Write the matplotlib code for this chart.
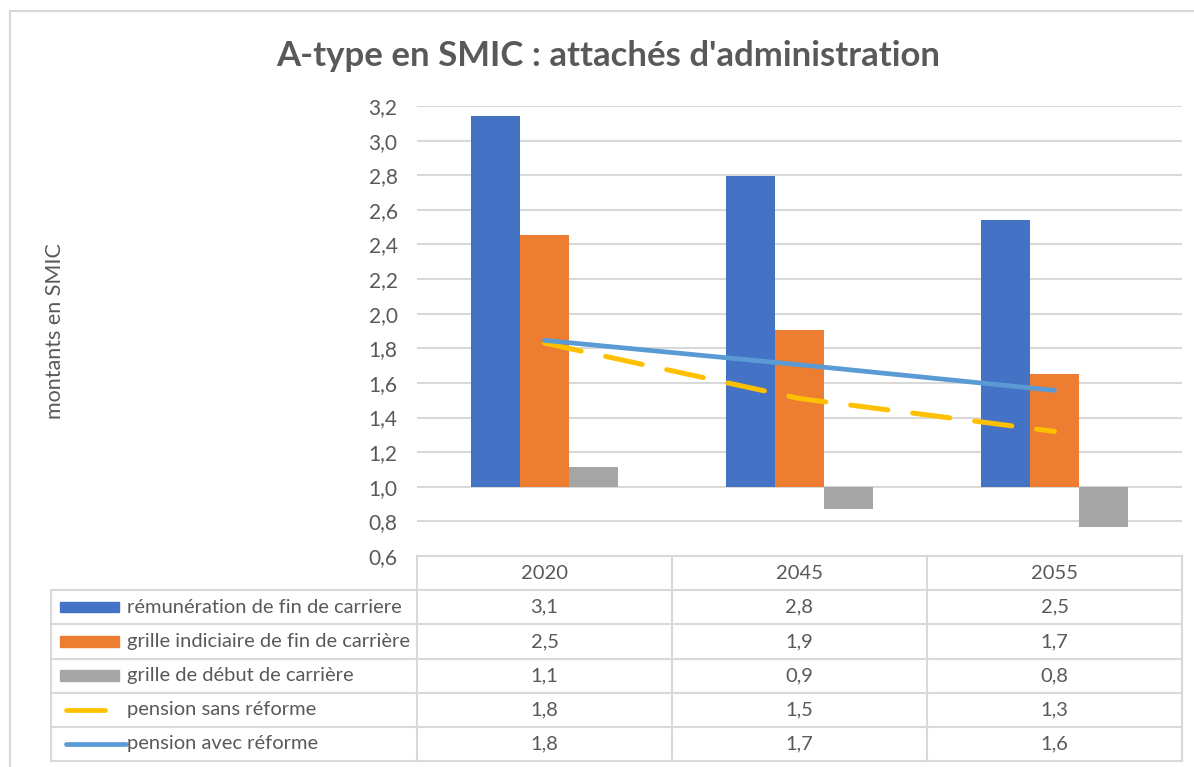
import numpy as np
import matplotlib
matplotlib.use("Agg")
import matplotlib.pyplot as plt
from matplotlib.patches import Rectangle

plt.rcParams['font.family'] = ['Lato', 'DejaVu Sans']

# données
annees = ["2020", "2045", "2055"]
remuneration_fin = [3.144, 2.794, 2.539]
grille_fin = [2.453, 1.908, 1.653]
grille_debut = [1.114, 0.871, 0.765]
pension_sans = [1.83, 1.51, 1.32]
pension_avec = [1.846, 1.705, 1.557]

noms = ["rémunération de fin de carriere",
        "grille indiciaire de fin de carrière",
        "grille de début de carrière",
        "pension sans réforme",
        "pension avec réforme"]
couleurs = ["#4472C4", "#ED7D31", "#A5A5A5", "#FFC000", "#5B9BD5"]
gris_txt = "#595959"
gris_grille = "#D9D9D9"

W, H = 1194, 767
fig = plt.figure(figsize=(W / 100, H / 100), dpi=100)

def box(x0, y0, x1, y1):
    # pixels (origine en haut a gauche) -> fraction de figure
    return [x0 / W, 1 - y1 / H, (x1 - x0) / W, (y1 - y0) / H]

# cadre du graphique
fig.patches.append(Rectangle((10 / W, -0.01), 1.0, 1 - 11 / H + 0.01,
                             transform=fig.transFigure, fill=False,
                             edgecolor=gris_grille, linewidth=1.5))

fig.text(608 / W, 1 - 56 / H, "A-type en SMIC : attachés d'administration",
         ha="center", va="center", fontsize=25, fontweight="bold", color=gris_txt)

# zone de tracé
ax = fig.add_axes(box(417, 106, 1182, 556))
x = np.arange(len(annees))
lb = 0.192
base = 1.0
series = [remuneration_fin, grille_fin, grille_debut]
for i, s in enumerate(series):
    ax.bar(x + (i - 1) * lb, np.array(s) - base, width=lb, bottom=base,
           color=couleurs[i], zorder=3)

ax.plot(x, pension_sans, color=couleurs[3], lw=3.6, linestyle=(0, (7.5, 5)),
        dash_capstyle="round", zorder=4)
ax.plot(x, pension_avec, color=couleurs[4], lw=3.4, solid_capstyle="round", zorder=4)

ax.set_xlim(-0.5, 2.5)
ax.set_ylim(0.6, 3.2)
yt = np.arange(0.6, 3.21, 0.2)
ax.set_yticks(yt)
ax.set_yticklabels([f"{v:.1f}".replace(".", ",") for v in yt], color=gris_txt, fontsize=15)
ax.tick_params(axis="y", length=0, pad=14)
ax.set_xticks([])
for sp in ax.spines.values():
    sp.set_visible(False)
for v in yt[1:]:
    ax.axhline(v, color=gris_grille, lw=1.5, zorder=1)

fig.text(55 / W, 1 - 331 / H, "montants en SMIC", rotation=90, ha="center",
         va="center", fontsize=15.5, color=gris_txt)

# tableau de données
tab = fig.add_axes(box(51, 556, 1182, 761))
x_gauche = -0.5 - (417 - 51) / 255
tab.set_xlim(x_gauche, 2.5)
tab.set_ylim(6, 0)
tab.axis("off")
kw = dict(color=gris_grille, lw=1.5, clip_on=False)
tab.plot([-0.5, 2.5], [0, 0], **kw)
for r in range(1, 7):
    tab.plot([x_gauche, 2.5], [r, r], **kw)
for c in [-0.5, 0.5, 1.5, 2.5]:
    tab.plot([c, c], [0, 6], **kw)
tab.plot([x_gauche, x_gauche], [1, 6], **kw)

fs = 14.5
for j, a in enumerate(annees):
    tab.text(j, 0.5, a, ha="center", va="center", fontsize=fs, color=gris_txt)

valeurs = [remuneration_fin, grille_fin, grille_debut, pension_sans, pension_avec]
px = (2.5 - x_gauche) / (1182 - 51)
for r, (nom, vals) in enumerate(zip(noms, valeurs)):
    yc = r + 1.5
    for j, v in enumerate(vals):
        tab.text(j, yc, f"{v:.1f}".replace(".", ","), ha="center", va="center",
                 fontsize=fs, color=gris_txt)
    x0 = x_gauche + 9 * px
    if r < 3:
        tab.add_patch(Rectangle((x0, yc - 0.15), 59 * px, 0.3, color=couleurs[r]))
    elif r == 3:
        tab.plot([x0 + 6 * px, x0 + 45 * px], [yc, yc], color=couleurs[r], lw=3.4,
                 solid_capstyle="round")
    else:
        tab.plot([x0 + 6 * px, x0 + 66 * px], [yc, yc], color=couleurs[r], lw=3.4,
                 solid_capstyle="round")
    tab.text(x_gauche + 76 * px, yc, nom, ha="left", va="center",
             fontsize=fs, color=gris_txt)

fig.savefig("out.png", dpi=100)
